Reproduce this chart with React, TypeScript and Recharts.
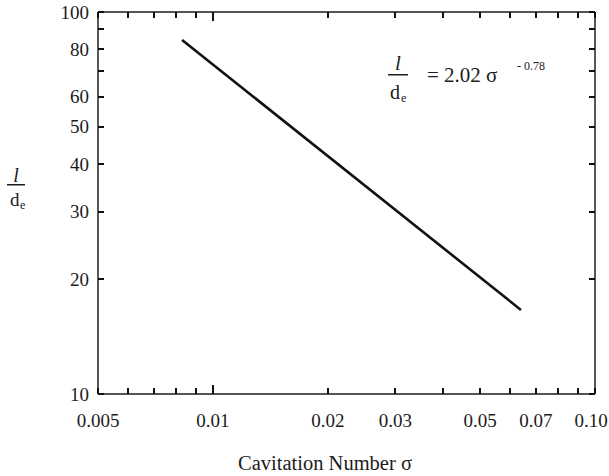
import { Line, LineChart, XAxis, YAxis } from "recharts"

const sigma = [0.0083, 0.064]
const ratio = [84.5, 16.6]

const xTicks = [0.005, 0.006, 0.007, 0.008, 0.009, 0.01, 0.02, 0.03, 0.04, 0.05, 0.06, 0.07, 0.08, 0.09, 0.1]
const xTickLabels = ["0.005", "", "", "", "", "0.01", "0.02", "0.03", "", "0.05", "", "0.07", "", "", "0.10"]
const yTicks = [10, 20, 30, 40, 50, 60, 70, 80, 90, 100]
const yTickLabels = ["10", "20", "30", "40", "50", "60", "", "80", "", "100"]

const data = sigma.map((s, i) => ({ sigma: s, ratio: ratio[i] }))

const serif = "Liberation Serif, Times New Roman, DejaVu Serif, serif"
const ink = "#1c1c1c"
const txt = { fontFamily: serif, fill: ink }
const tw = 2

function BottomTick(props: any) {
  const { x, y, payload } = props
  const i = xTicks.indexOf(payload.value)
  const len = payload.value === 0.01 ? 9 : 6
  // last label sits against the page edge
  const dx = payload.value === 0.1 ? -4 : 0
  return (
    <g>
      <rect x={Math.round(x) - 1} y={y - len} width={tw} height={len} fill="#111" shapeRendering="crispEdges" />
      {xTickLabels[i] && (
        <text x={x + dx} y={y + 33} textAnchor="middle" fontSize={19} style={txt}>
          {xTickLabels[i]}
        </text>
      )}
    </g>
  )
}

function TopTick(props: any) {
  const { x, y, payload } = props
  const len = payload.value === 0.01 ? 9 : 6
  return <rect x={Math.round(x) - 1} y={y} width={tw} height={len} fill="#111" shapeRendering="crispEdges" />
}

function LeftTick(props: any) {
  const { x, y, payload } = props
  const i = yTicks.indexOf(payload.value)
  return (
    <g>
      <rect x={x} y={Math.round(y) - 1} width={6} height={tw} fill="#111" shapeRendering="crispEdges" />
      {yTickLabels[i] && (
        <text x={x - 9} y={y + 6.5} textAnchor="end" fontSize={19} style={txt}>
          {yTickLabels[i]}
        </text>
      )}
    </g>
  )
}

function RightTick(props: any) {
  const { x, y } = props
  return <rect x={x - 6} y={Math.round(y) - 1} width={6} height={tw} fill="#111" shapeRendering="crispEdges" />
}

const axisLine = { stroke: ink, strokeWidth: 1.5 }

export default function App() {
  return (
    <div style={{ position: "absolute", left: 0, top: 0, width: 609, height: 476, background: "#fff" }}>
      <LineChart width={609} height={476} data={data} margin={{ top: 0, right: 0, bottom: 0, left: 0 }}>
        <XAxis
          xAxisId="b"
          dataKey="sigma"
          type="number"
          scale="log"
          domain={[0.005, 0.1]}
          allowDataOverflow
          ticks={xTicks}
          interval={0}
          height={82}
          tickSize={0}
          tickMargin={0}
          axisLine={axisLine}
          tickLine={false}
          tick={(p: any) => <BottomTick {...p} />}
        />
        <XAxis
          xAxisId="t"
          orientation="top"
          dataKey="sigma"
          type="number"
          scale="log"
          domain={[0.005, 0.1]}
          allowDataOverflow
          ticks={xTicks}
          interval={0}
          height={12}
          tickSize={0}
          tickMargin={0}
          axisLine={axisLine}
          tickLine={false}
          tick={(p: any) => <TopTick {...p} />}
        />
        <YAxis
          yAxisId="l"
          dataKey="ratio"
          type="number"
          scale="log"
          domain={[10, 100]}
          allowDataOverflow
          ticks={yTicks}
          interval={0}
          width={98}
          tickSize={0}
          tickMargin={0}
          axisLine={axisLine}
          tickLine={false}
          tick={(p: any) => <LeftTick {...p} />}
        />
        <YAxis
          yAxisId="r"
          orientation="right"
          dataKey="ratio"
          type="number"
          scale="log"
          domain={[10, 100]}
          allowDataOverflow
          ticks={yTicks}
          interval={0}
          width={14}
          tickSize={0}
          tickMargin={0}
          axisLine={axisLine}
          tickLine={false}
          tick={(p: any) => <RightTick {...p} />}
        />
        <Line
          xAxisId="b"
          yAxisId="l"
          dataKey="ratio"
          stroke="#111"
          strokeWidth={2.6}
          dot={false}
          isAnimationActive={false}
        />
        <g style={{ fontFamily: serif }} fill={ink}>
          {/* y axis title */}
          <text x={16} y={182} fontSize={20} fontStyle="italic" textAnchor="middle" style={txt}>l</text>
          <rect x={7} y={184} width={18} height={1.5} fill={ink} />
          <text x={10} y={206} fontSize={19} style={txt}>d</text>
          <text x={20} y={209} fontSize={12} style={txt}>e</text>
          {/* equation */}
          <text x={398} y={70} fontSize={21} fontStyle="italic" textAnchor="middle" style={txt}>l</text>
          <rect x={388} y={74} width={20} height={1.5} fill={ink} />
          <text x={390} y={99} fontSize={20} style={txt}>d</text>
          <text x={401} y={102} fontSize={12} style={txt}>e</text>
          <text x={427} y={82} fontSize={21} style={txt}>= 2.02 σ</text>
          <text x={517} y={70} fontSize={12} style={txt}>- 0.78</text>
          {/* x axis title */}
          <text x={325} y={470} fontSize={20.5} textAnchor="middle" style={txt}>Cavitation Number σ</text>
        </g>
      </LineChart>
    </div>
  )
}
